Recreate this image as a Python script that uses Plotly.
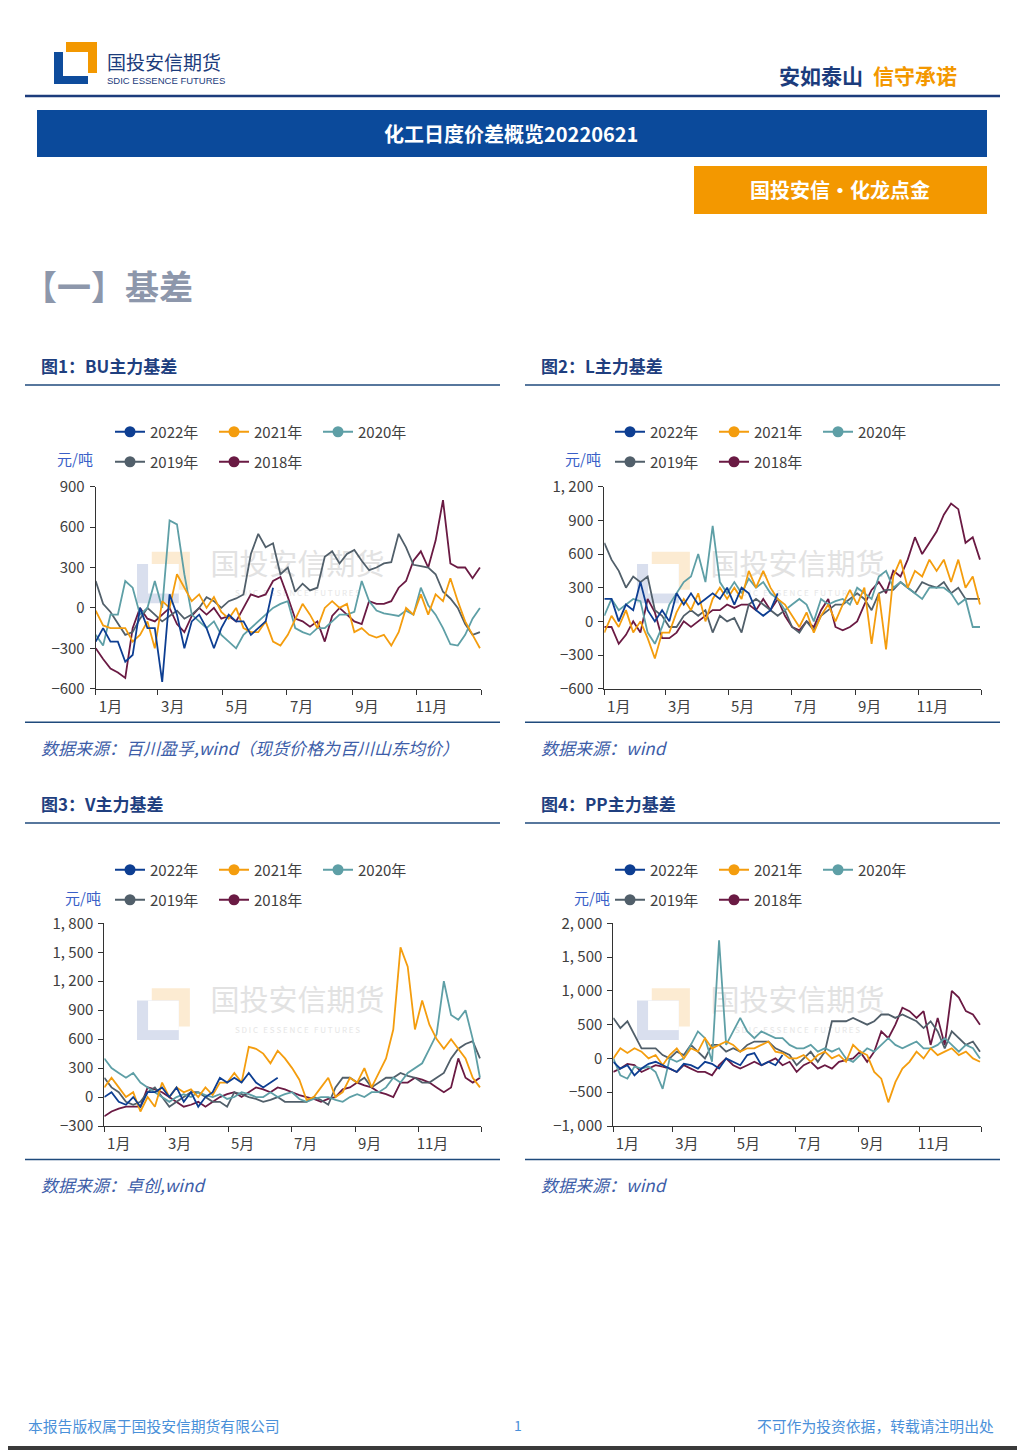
import plotly.graph_objects as go

W, H = 1025, 1450
PAGE_OFFSET = 8  # the page body margin shifts the figure by 8 px
FONT = "Noto Sans CJK SC"

NAVY = "#1C3C7C"
BAR_BLUE = "#0B4A9B"
ORANGE = "#F39800"
RULE = "#1F4A7C"
AXIS = "#333333"
TEXT = "#404040"

YEARS = ["2022年", "2021年", "2020年", "2019年", "2018年"]
YEAR_COLORS = ["#0D3E92", "#F49D0E", "#5E9FA6", "#515F6A", "#6A1A43"]

STEP_DAYS = 7
MONTH_LABELS = ["1月", "3月", "5月", "7月", "9月", "11月"]
MONTH_LABEL_DAYS = [14, 73, 134, 195, 257, 318]
MONTH_TICK_DAYS = [0, 59, 120, 181, 243, 304, 365]

# 图1 BU主力基差 (元/吨), weekly readings
bu_2022 = [-250, -150, -250, -250, -400, -350, 0, -150, -150, -550, 100, -50, -300,
           -100, -50, -150, -300, -150, -50, -100, -100, -200, -150, -100, 150]
bu_2021 = [-20, -130, -150, -150, -150, -250, -200, -100, -300, 50, 0, 250, 150, 50,
           100, 0, 80, -30, -80, 0, -150, -180, -180, -100, -250, -280, -200, -80,
           30, -50, -150, 0, 50, 0, 30, -180, -150, -200, -220, -200, -280, -180,
           0, -50, 100, -50, 100, 50, 220, 50, -100, -200, -300]
bu_2020 = [-200, -280, -50, -50, 200, 150, -50, 0, 200, 0, 650, 620, 250, -50, -100,
           -150, -100, -200, -250, -300, -200, -150, -100, -50, 0, 30, 50, -150,
           -180, -200, -150, -150, -100, -50, -50, -30, 200, 50, -20, -40, -50, -60,
           -20, -50, 150, 20, -50, -150, -270, -280, -200, -80, 0]
bu_2019 = [200, 30, -30, -120, -200, -180, -80, 0, -50, -100, -60, -20, -80, -50, 0,
           80, 50, 0, 50, 70, 100, 400, 550, 450, 480, 250, 300, 120, 180, 130, 150,
           380, 420, 330, 400, 430, 350, 280, 300, 330, 340, 550, 450, 320, 310, 300,
           250, 120, 70, 0, -120, -200, -180]
bu_2018 = [-300, -380, -450, -480, -520, -150, 0, -80, -100, -50, 0, -120, -180, -60,
           0, -50, 0, -80, -60, -100, 0, 100, 80, 100, 200, 230, 80, -80, -100, -140,
           -100, -250, -60, 0, -50, -100, -120, 50, 30, 30, 50, 150, 200, 350, 420,
           300, 500, 800, 330, 300, 300, 220, 300]

# 图2 L主力基差
l_2022 = [200, 200, 0, 150, 100, 350, 100, 0, 100, 0, 250, 150, 250, 150, 200, 250,
          200, 300, 150, 300, 250, 100, 50, 100, 250]
l_2021 = [-100, 50, -50, 100, -100, 0, -150, -330, -100, -100, 80, 200, 100, 250, 0,
          200, 300, 200, 300, 200, 450, 300, 450, 300, 200, 150, 50, -50, 80, -100,
          50, 150, 0, 150, 280, 150, 300, -200, 250, -250, 400, 550, 300, 450, 400,
          550, 450, 550, 350, 550, 300, 400, 150]
l_2020 = [50, 200, 100, 150, 200, 180, -100, -200, -50, 150, 250, 350, 400, 600, 350,
          850, 350, 250, 350, 250, 380, 300, 350, 250, 200, 100, 150, 200, 150, 0,
          200, 150, 180, 200, 150, 300, 250, 200, 400, 450, 300, 350, 300, 250, 200,
          300, 300, 300, 250, 150, 200, -50, -50]
l_2019 = [700, 550, 450, 300, 400, 350, 400, 100, 50, -50, -50, 50, 100, 50, 100,
          -100, 50, 0, 30, -100, 150, 200, 150, 100, 50, 100, -50, -100, 0, -80, 50,
          100, 150, 150, 200, 250, 200, 100, 250, 280, 280, 350, 300, 250, 350, 320,
          300, 350, 250, 300, 200, 200, 200]
l_2018 = [-50, -50, -200, -120, 0, -100, 200, 80, -150, -150, -100, 0, -50, 0, 50, 100,
          100, 150, 120, 150, 150, 100, 200, 100, 200, 50, -50, -80, 0, -50, 100, 200,
          -50, -80, -50, 0, 150, 280, 350, 250, 450, 400, 550, 750, 600, 700, 800,
          950, 1050, 1000, 700, 750, 550]

# 图3 V主力基差
v_2022 = [0, 50, -50, -80, 0, -100, 50, 50, 100, 0, 100, -50, 50, -100, 0, 50, 200,
          150, 200, 150, 250, 150, 100, 150, 200]
v_2021 = [100, 200, 100, 0, 50, -150, 0, -100, 150, 0, 100, 50, 80, 0, 100, 20, 150,
          150, 250, 150, 520, 500, 450, 350, 480, 400, 300, 180, -30, 0, 100, 200, 0,
          50, 200, 150, 300, 100, 250, 400, 700, 1550, 1350, 700, 1000, 750, 600, 500,
          600, 500, 400, 200, 100]
v_2020 = [400, 300, 250, 200, 250, 150, 100, 50, 0, -50, 0, 30, 0, 50, 20, 0, 30, -20,
          0, 50, 30, 0, 0, 50, 0, 30, 50, -20, -50, -20, 0, 0, -30, -50, 0, 30, 0, 50,
          50, 100, 200, 150, 250, 300, 350, 500, 650, 1200, 850, 800, 900, 600, 200]
v_2019 = [200, 100, 50, -50, -80, -50, 50, 100, 0, -100, -50, 0, 50, 50, 0, -50, -50,
          -100, 50, 30, 0, -20, -50, -30, 0, -50, -50, -50, -50, 0, -30, -80, 100, 200,
          200, 150, 200, 100, 150, 200, 200, 250, 220, 200, 150, 150, 200, 250, 400,
          500, 550, 580, 400]
v_2018 = [-200, -150, -120, -100, -100, -100, 100, 80, 50, 0, -50, -100, -80, -50,
          -100, -50, 0, 30, 50, 0, 50, 100, 80, 50, 100, 80, 50, 20, 0, -20, -50, -20,
          0, 80, 100, 150, 120, 100, 50, 30, 0, 150, 150, 200, 180, 150, 100, 50, 100,
          400, 200, 150, 200]

# 图4 PP主力基差
pp_2022 = [-50, -150, -100, -250, -150, -80, -50, -100, -150, -200, -80, -100, -150,
           -50, -80, -150, 0, -50, -100, 50, 80, -100, -50, -100, 50]
pp_2021 = [0, 150, 80, 150, 100, 0, 50, -100, 50, 150, 0, 150, 100, 300, 150, 200, 250,
           200, 100, 150, 150, 200, 250, 100, 80, 0, 0, 50, -50, 50, 100, 0, 50, -50,
           200, 100, 50, -200, -300, -650, -350, -150, -50, 100, 0, 150, 50, 100, 150,
           50, 100, 0, -50]
pp_2020 = [0, -250, -300, -120, -150, -120, -200, -450, 0, -50, 0, 200, 400, 300, -50,
           1750, 200, 400, 600, 400, 300, 400, 350, 300, 300, 200, 150, 150, 200, 100,
           150, 100, 150, 0, -50, 50, 150, 100, 200, 300, 200, 150, 200, 250, 150, 150,
           200, 300, 200, 100, 200, 150, 0]
pp_2019 = [600, 450, 550, 350, 150, 150, 150, 50, 0, 100, 50, 200, 100, 0, 200, 200,
           100, 150, 100, 200, 250, 250, 250, 150, 100, 50, -100, 0, 100, -50, 100, 550,
           550, 550, 600, 550, 500, 550, 650, 650, 600, 650, 600, 550, 450, 550, 400,
           150, 400, 300, 200, 250, 100]
pp_2018 = [-200, -150, -80, -100, -200, -150, -100, -120, -150, -200, -100, -150, -200,
           -200, -250, -100, 0, -100, -150, -100, -50, -100, -50, 0, -100, -50, -200,
           -100, -50, -150, -100, -150, -50, -20, 0, 100, -50, 100, 400, 300, 500, 750,
           700, 600, 700, 200, 600, 200, 1000, 900, 700, 650, 500]

BU_YTICKS = [-600, -300, 0, 300, 600, 900]
BU_YTEXT = ["−600", "−300", "0", "300", "600", "900"]
L_YTICKS = [-600, -300, 0, 300, 600, 900, 1200]
L_YTEXT = ["−600", "−300", "0", "300", "600", "900", "1, 200"]
V_YTICKS = [-300, 0, 300, 600, 900, 1200, 1500, 1800]
V_YTEXT = ["−300", "0", "300", "600", "900", "1, 200", "1, 500", "1, 800"]
PP_YTICKS = [-1000, -500, 0, 500, 1000, 1500, 2000]
PP_YTEXT = ["−1, 000", "−500", "0", "500", "1, 000", "1, 500", "2, 000"]

CHARTS = [
    dict(title="图1：BU主力基差", source="数据来源：百川盈孚,wind（现货价格为百川山东均价）",
         series=[bu_2022, bu_2021, bu_2020, bu_2019, bu_2018],
         yticks=BU_YTICKS, ytext=BU_YTEXT, panel=(25, 365), plot=(95.7, 481, 486.7, 688.7)),
    dict(title="图2：L主力基差", source="数据来源：wind",
         series=[l_2022, l_2021, l_2020, l_2019, l_2018],
         yticks=L_YTICKS, ytext=L_YTEXT, panel=(525, 365), plot=(604.3, 981, 486.7, 688.7)),
    dict(title="图3：V主力基差", source="数据来源：卓创,wind",
         series=[v_2022, v_2021, v_2020, v_2019, v_2018],
         yticks=V_YTICKS, ytext=V_YTEXT, panel=(25, 803), plot=(104.3, 481, 923.3, 1126)),
    dict(title="图4：PP主力基差", source="数据来源：wind",
         series=[pp_2022, pp_2021, pp_2020, pp_2019, pp_2018],
         yticks=PP_YTICKS, ytext=PP_YTEXT, panel=(525, 803), plot=(613.3, 981, 923.3, 1126)),
]


def fx(v):
    return (v - PAGE_OFFSET) / W


def fy(v):
    return 1 - (v - PAGE_OFFSET) / H


def rect(x0, y0, x1, y1, color, layer="above"):
    return dict(type="rect", xref="paper", yref="paper", x0=fx(x0), x1=fx(x1),
                y0=fy(y1), y1=fy(y0), fillcolor=color, line=dict(width=0), layer=layer)


def hline(x0, x1, y, color, width):
    return dict(type="line", xref="paper", yref="paper", x0=fx(x0), x1=fx(x1),
                y0=fy(y), y1=fy(y), line=dict(color=color, width=width))


def logo(x, y, s, orange, blue, inner, layer="above"):
    return [rect(x + 12 * s, y, x + 43 * s, y + 31 * s, orange, layer),
            rect(x, y + 10 * s, x + 34 * s, y + 42 * s, blue, layer),
            rect(x + 9 * s, y + 10 * s, x + 34 * s, y + 34 * s, inner, layer)]


def label(x, y, s, size, color, xanchor="left", bold=False, family=FONT):
    return dict(xref="paper", yref="paper", x=fx(x), y=fy(y), text=s, showarrow=False,
                xanchor=xanchor, yanchor="middle",
                font=dict(size=size, color=color, family=family,
                          weight="bold" if bold else "normal"))


fig = go.Figure()
shapes = []
annotations = []
layout = {}

# page header
shapes += logo(54, 42, 1.0, ORANGE, "#0E4C9C", "white")
annotations.append(label(105, 62, "国投安信期货", 19, NAVY))
annotations.append(label(105, 80, "SDIC ESSENCE FUTURES", 9.5, NAVY,
                         family="Liberation Sans Narrow, Arial Narrow, sans-serif"))
annotations.append(label(865, 75, "安如泰山", 21, NAVY, xanchor="right", bold=True))
annotations.append(label(871, 75, "信守承诺", 21, ORANGE, bold=True))
shapes.append(hline(25, 1000, 96, NAVY, 2.5))
shapes.append(rect(37, 110, 987, 157, BAR_BLUE))
annotations.append(label(511, 134, "化工日度价差概览20220621", 20, "white", xanchor="center", bold=True))
shapes.append(rect(694, 166, 987, 214, ORANGE))
annotations.append(label(840, 190, "国投安信·化龙点金", 20, "white", xanchor="center", bold=True))
annotations.append(label(21, 285, "【一】基差", 34, "#8D97AB", bold=True))

for i, ch in enumerate(CHARTS):
    n = i + 1
    xa = "x" if n == 1 else f"x{n}"
    ya = "y" if n == 1 else f"y{n}"
    left, ty = ch["panel"]
    x0, x1, y0, y1 = ch["plot"]

    # watermark, behind the lines
    shapes += logo(left + 112, y0 + 65, 1.23, "#FCEBD2", "#D9DFEE", "white", layer="below")
    shapes.append(dict(type="rect", xref="paper", yref="paper", x0=fx(left + 180), x1=fx(left + 365),
                       y0=fy(y0 + 95), y1=fy(y0 + 65), line=dict(width=0), layer="below",
                       fillcolor="rgba(0,0,0,0)",
                       label=dict(text="国投安信期货", textposition="middle center",
                                  font=dict(size=29, color="#E2E2E2", family=FONT))))
    shapes.append(dict(type="rect", xref="paper", yref="paper", x0=fx(left + 180), x1=fx(left + 365),
                       y0=fy(y0 + 113), y1=fy(y0 + 101), line=dict(width=0), layer="below",
                       fillcolor="rgba(0,0,0,0)",
                       label=dict(text="S D I C   E S S E N C E   F U T U R E S",
                                  textposition="middle center",
                                  font=dict(size=8, color="#E6E6E6", family=FONT))))

    # data lines, 2022 drawn last
    for name, color, vals in reversed(list(zip(YEARS, YEAR_COLORS, ch["series"]))):
        fig.add_trace(go.Scatter(
            x=[k * STEP_DAYS for k in range(len(vals))], y=vals, mode="lines", name=name,
            line=dict(color=color, width=1.8), xaxis=xa, yaxis=ya,
            showlegend=False, hoverinfo="skip"))

    # two legend rows per chart
    for j, (name, color) in enumerate(zip(YEARS, YEAR_COLORS)):
        idx = 2 * i + (1 if j < 3 else 2)
        fig.add_trace(go.Scatter(
            x=[None], y=[None], mode="lines+markers", name=name,
            line=dict(color=color, width=2), marker=dict(color=color, size=11),
            legend="legend" if idx == 1 else f"legend{idx}", xaxis=xa, yaxis=ya))
    for r, dy in enumerate([67, 97]):
        idx = 2 * i + r + 1
        layout["legend" if idx == 1 else f"legend{idx}"] = dict(
            orientation="h", xanchor="left", yanchor="middle",
            x=fx(left + 85), y=fy(ty + dy), bgcolor="rgba(0,0,0,0)",
            font=dict(size=15, color=TEXT, family=FONT),
            entrywidth=59, entrywidthmode="pixels", itemsizing="trace",
            tracegroupgap=0, traceorder="normal")

    axis_font = dict(size=15, color=TEXT, family=FONT)
    layout["xaxis" if n == 1 else f"xaxis{n}"] = dict(
        domain=[fx(x0), fx(x1)], anchor=ya, range=[0, 365],
        tickmode="array", tickvals=MONTH_LABEL_DAYS, ticktext=MONTH_LABELS, ticks="",
        ticklabelstandoff=4, tickfont=axis_font,
        minor=dict(tickmode="array", tickvals=MONTH_TICK_DAYS, ticks="outside",
                   ticklen=5, tickcolor=AXIS, tickwidth=1, showgrid=False),
        showline=True, linecolor=AXIS, linewidth=1, showgrid=False, zeroline=False,
        fixedrange=True)
    layout["yaxis" if n == 1 else f"yaxis{n}"] = dict(
        domain=[fy(y1), fy(y0)], anchor=xa, range=[ch["yticks"][0], ch["yticks"][-1]],
        tickmode="array", tickvals=ch["yticks"], ticktext=ch["ytext"],
        ticks="outside", ticklen=5, tickcolor=AXIS, tickfont=axis_font,
        ticklabelstandoff=2,
        showline=True, linecolor=AXIS, linewidth=1, showgrid=False, zeroline=False,
        fixedrange=True)

    # panel texts and rules
    annotations.append(label(left + 14, ty, ch["title"], 17, "#1F3F7F", bold=True))
    shapes.append(hline(left, left + 475, ty + 20, RULE, 1.5))
    shapes.append(hline(left, left + 475, y1 + 33.5, RULE, 1.5))
    annotations.append(label(x0 - 1, ty + 94, "元/吨", 15, "#3A5FC8", xanchor="right"))
    annotations.append(label(left + 14, y1 + 58.5, "<i>" + ch["source"] + "</i>", 17, "#3D5DA8"))

# footer
annotations.append(label(26, 1425, "本报告版权属于国投安信期货有限公司", 14.8, "#4A90D9"))
annotations.append(label(518, 1425, "1", 14, "#4A90D9", xanchor="center"))
annotations.append(label(996, 1425, "不可作为投资依据，转载请注明出处", 14.8, "#4A90D9", xanchor="right"))
shapes.append(rect(0, 1446, 1025, 1450, "#3A3A3A"))

fig.update_layout(
    width=W, height=H, margin=dict(l=0, r=0, t=0, b=0, autoexpand=False),
    paper_bgcolor="white", plot_bgcolor="rgba(0,0,0,0)",
    font=dict(family=FONT, color=TEXT),
    showlegend=True, shapes=shapes, annotations=annotations, **layout)

fig.write_html("out.html")
